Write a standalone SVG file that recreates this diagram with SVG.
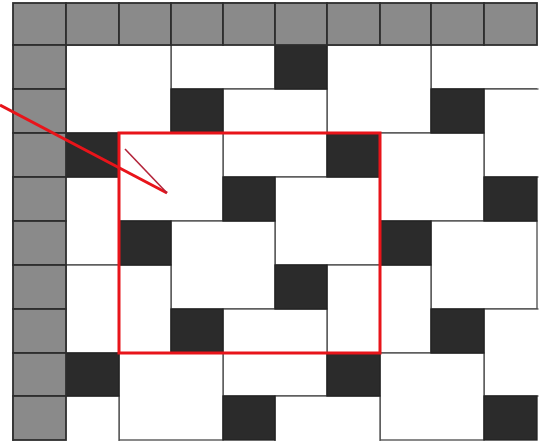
<svg xmlns="http://www.w3.org/2000/svg" width="542" height="445" viewBox="0 0 542 445">
<style>
.w{fill:#fff;stroke:#4a4a4a;stroke-width:1.3}
.b{fill:#2b2b2b;stroke:#222;stroke-width:1.3}
.g{fill:#8a8a8a;stroke:#2e2e2e;stroke-width:1.8}
.red{fill:none;stroke:#e8141a;stroke-width:3}
</style>
<defs>
<clipPath id="area"><rect x="0" y="0" width="538.5" height="441"/></clipPath>
</defs>
<rect width="542" height="445" fill="#fff"/>
<g id="tiles" clip-path="url(#area)">
<g id="white-squares">
<rect id="w3_0" class="w" x="171" y="3" width="104" height="86"/>
<path id="w8_0" class="w" d="M537 89H431V3"/>
<rect id="w1_1" class="w" x="66" y="45" width="105" height="88"/>
<rect id="w6_1" class="w" x="327" y="45" width="104" height="88"/>
<rect id="w4_2" class="w" x="223" y="89" width="104" height="88"/>
<rect id="w9_2" class="w" x="484" y="89" width="105" height="88"/>
<rect id="w2_3" class="w" x="119" y="133" width="104" height="88"/>
<rect id="w7_3" class="w" x="380" y="133" width="104" height="88"/>
<rect id="w0_4" class="w" x="13" y="177" width="106" height="88"/>
<rect id="w5_4" class="w" x="275" y="177" width="105" height="88"/>
<rect id="w3_5" class="w" x="171" y="221" width="104" height="88"/>
<rect id="w8_5" class="w" x="431" y="221" width="106" height="88"/>
<rect id="w1_6" class="w" x="66" y="265" width="105" height="88"/>
<rect id="w6_6" class="w" x="327" y="265" width="104" height="88"/>
<rect id="w4_7" class="w" x="223" y="309" width="104" height="87"/>
<rect id="w9_7" class="w" x="484" y="309" width="105" height="87"/>
<rect id="w2_8" class="w" x="119" y="353" width="104" height="87"/>
<rect id="w7_8" class="w" x="380" y="353" width="104" height="87"/>
<rect id="w0_9" class="w" x="13" y="396" width="106" height="88"/>
<rect id="w5_9" class="w" x="275" y="396" width="105" height="88"/>
</g>
<g id="black-squares">
<rect id="b5_1" class="b" x="275" y="45" width="52" height="44"/>
<rect id="b3_2" class="b" x="171" y="89" width="52" height="44"/>
<rect id="b8_2" class="b" x="431" y="89" width="53" height="44"/>
<rect id="b1_3" class="b" x="66" y="133" width="53" height="44"/>
<rect id="b6_3" class="b" x="327" y="133" width="53" height="44"/>
<rect id="b4_4" class="b" x="223" y="177" width="52" height="44"/>
<rect id="b9_4" class="b" x="484" y="177" width="53" height="44"/>
<rect id="b2_5" class="b" x="119" y="221" width="52" height="44"/>
<rect id="b7_5" class="b" x="380" y="221" width="51" height="44"/>
<rect id="b5_6" class="b" x="275" y="265" width="52" height="44"/>
<rect id="b3_7" class="b" x="171" y="309" width="52" height="44"/>
<rect id="b8_7" class="b" x="431" y="309" width="53" height="44"/>
<rect id="b1_8" class="b" x="66" y="353" width="53" height="43"/>
<rect id="b6_8" class="b" x="327" y="353" width="53" height="43"/>
<rect id="b4_9" class="b" x="223" y="396" width="52" height="44"/>
<rect id="b9_9" class="b" x="484" y="396" width="53" height="44"/>
</g>
</g>
<g id="gray-top-row">
<rect class="g" x="13" y="3" width="53" height="42"/>
<rect class="g" x="66" y="3" width="53" height="42"/>
<rect class="g" x="119" y="3" width="52" height="42"/>
<rect class="g" x="171" y="3" width="52" height="42"/>
<rect class="g" x="223" y="3" width="52" height="42"/>
<rect class="g" x="275" y="3" width="52" height="42"/>
<rect class="g" x="327" y="3" width="53" height="42"/>
<rect class="g" x="380" y="3" width="51" height="42"/>
<rect class="g" x="431" y="3" width="53" height="42"/>
<rect class="g" x="484" y="3" width="53" height="42"/>
</g>
<g id="gray-left-column">
<rect class="g" x="13" y="45" width="53" height="44"/>
<rect class="g" x="13" y="89" width="53" height="44"/>
<rect class="g" x="13" y="133" width="53" height="44"/>
<rect class="g" x="13" y="177" width="53" height="44"/>
<rect class="g" x="13" y="221" width="53" height="44"/>
<rect class="g" x="13" y="265" width="53" height="44"/>
<rect class="g" x="13" y="309" width="53" height="44"/>
<rect class="g" x="13" y="353" width="53" height="43"/>
<rect class="g" x="13" y="396" width="53" height="44"/>
</g>
<g id="highlight">
<rect class="red" x="119" y="133" width="261" height="220"/>
</g>
<g id="connectors">
<line class="red" x1="0" y1="105" x2="167" y2="193"/>
<line x1="125" y1="149" x2="167" y2="193" stroke="#b3243a" stroke-width="1.6"/>
</g>
</svg>
